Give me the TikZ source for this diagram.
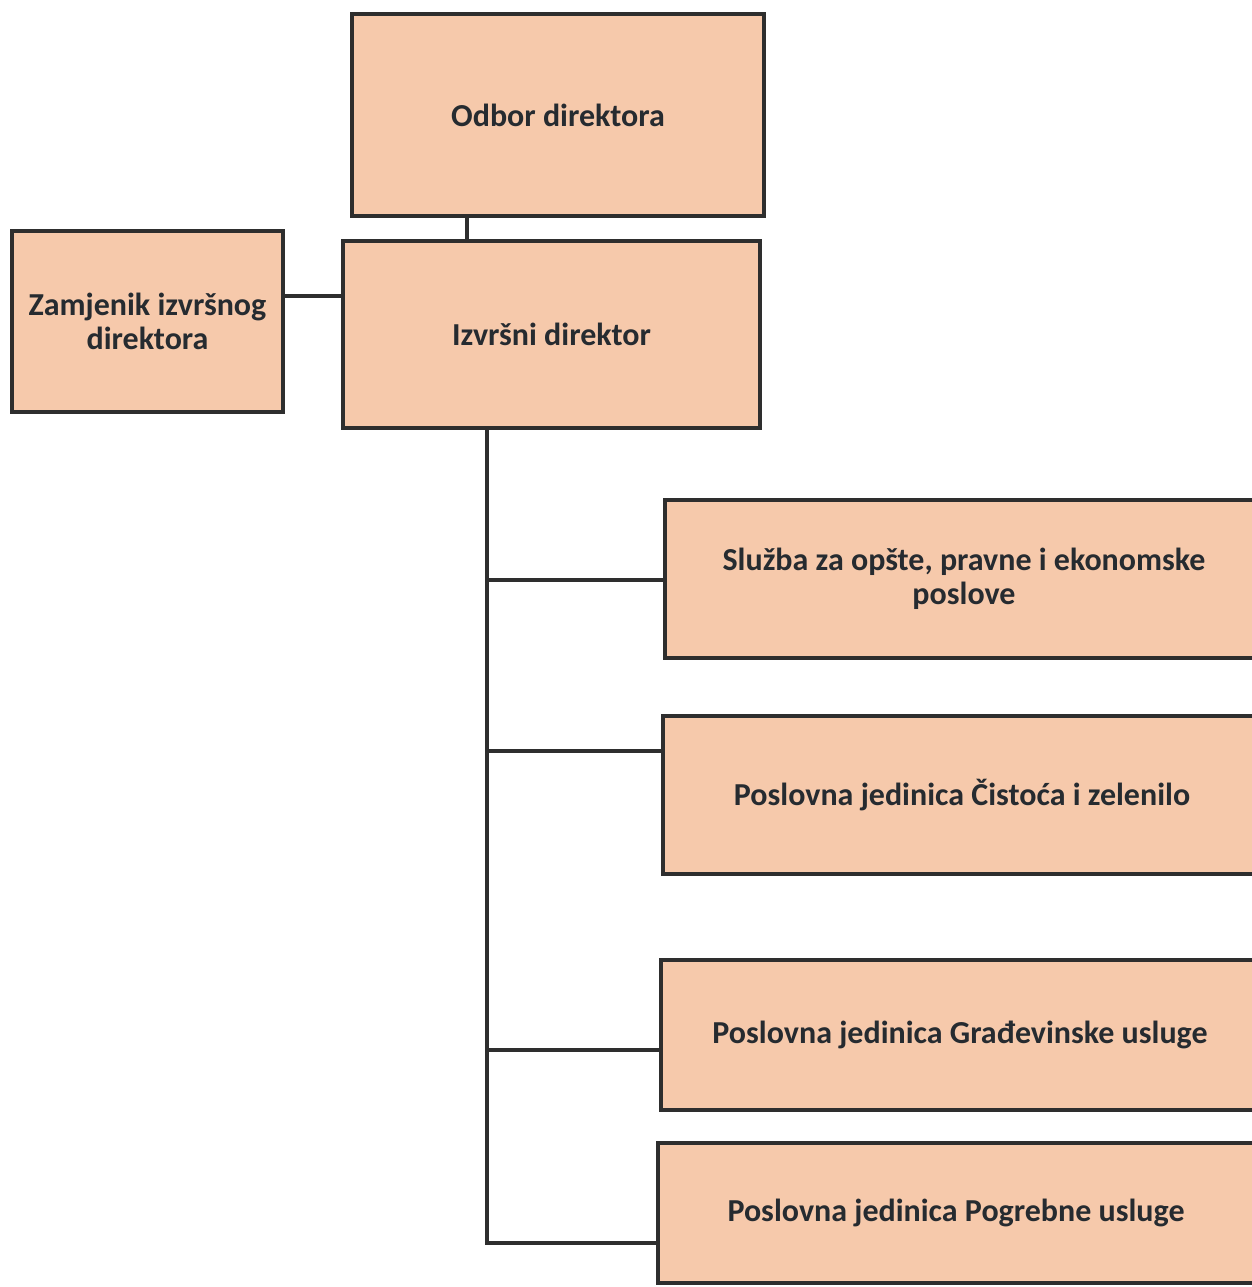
\documentclass[tikz,border=0pt]{standalone}
\usepackage{fontspec}
\setmainfont{Carlito}
\definecolor{boxfill}{HTML}{F6C9AB}
\definecolor{edge}{HTML}{2E2E2E}
\definecolor{txt}{HTML}{262B30}
\begin{document}
\begin{tikzpicture}[x=1pt,y=-1pt,
  orgbox/.style={draw=edge,line width=4pt,fill=boxfill,align=center,
    font=\fontsize{32}{34}\selectfont\bfseries,text=txt,inner sep=0pt},
  link/.style={draw=edge,line width=4pt}]
\useasboundingbox[fill=white] (0,0) rectangle (1252,1287);
\node[orgbox,minimum width=412pt,minimum height=202pt] (odbor) at (558,115) {Odbor direktora};
\node[orgbox,minimum width=271pt,minimum height=181pt] (zam) at (147.5,321.5) {Zamjenik izvršnog\\direktora};
\node[orgbox,minimum width=417pt,minimum height=187pt] (izv) at (551.5,334.5) {Izvršni direktor};
\node[orgbox,minimum width=598pt,minimum height=158pt] (sluzba) at (964,579) {Služba za opšte, pravne i ekonomske\\poslove};
\node[orgbox,minimum width=598pt,minimum height=158pt] (cist) at (962,795) {Poslovna jedinica Čistoća i zelenilo};
\node[orgbox,minimum width=598pt,minimum height=150pt] (grad) at (960,1035) {Poslovna jedinica Građevinske usluge};
\node[orgbox,minimum width=596pt,minimum height=140pt] (pogr) at (956,1213) {Poslovna jedinica Pogrebne usluge};
\coordinate (vx) at (467,0);
\coordinate (tx) at (487,0);
\coordinate (hz) at (0,296);
\coordinate (b1) at (0,580);
\coordinate (b2) at (0,751);
\coordinate (b3) at (0,1050);
\coordinate (b4) at (0,1243);
\draw[link] (odbor.south -| vx) -- (izv.north -| vx);
\draw[link] (zam.east |- hz) -- (izv.west |- hz);
\draw[link] (izv.south -| tx) |- (pogr.west |- b4);
\draw[link] (tx |- b1) -- (sluzba.west |- b1);
\draw[link] (tx |- b2) -- (cist.west |- b2);
\draw[link] (tx |- b3) -- (grad.west |- b3);
\end{tikzpicture}
\end{document}
